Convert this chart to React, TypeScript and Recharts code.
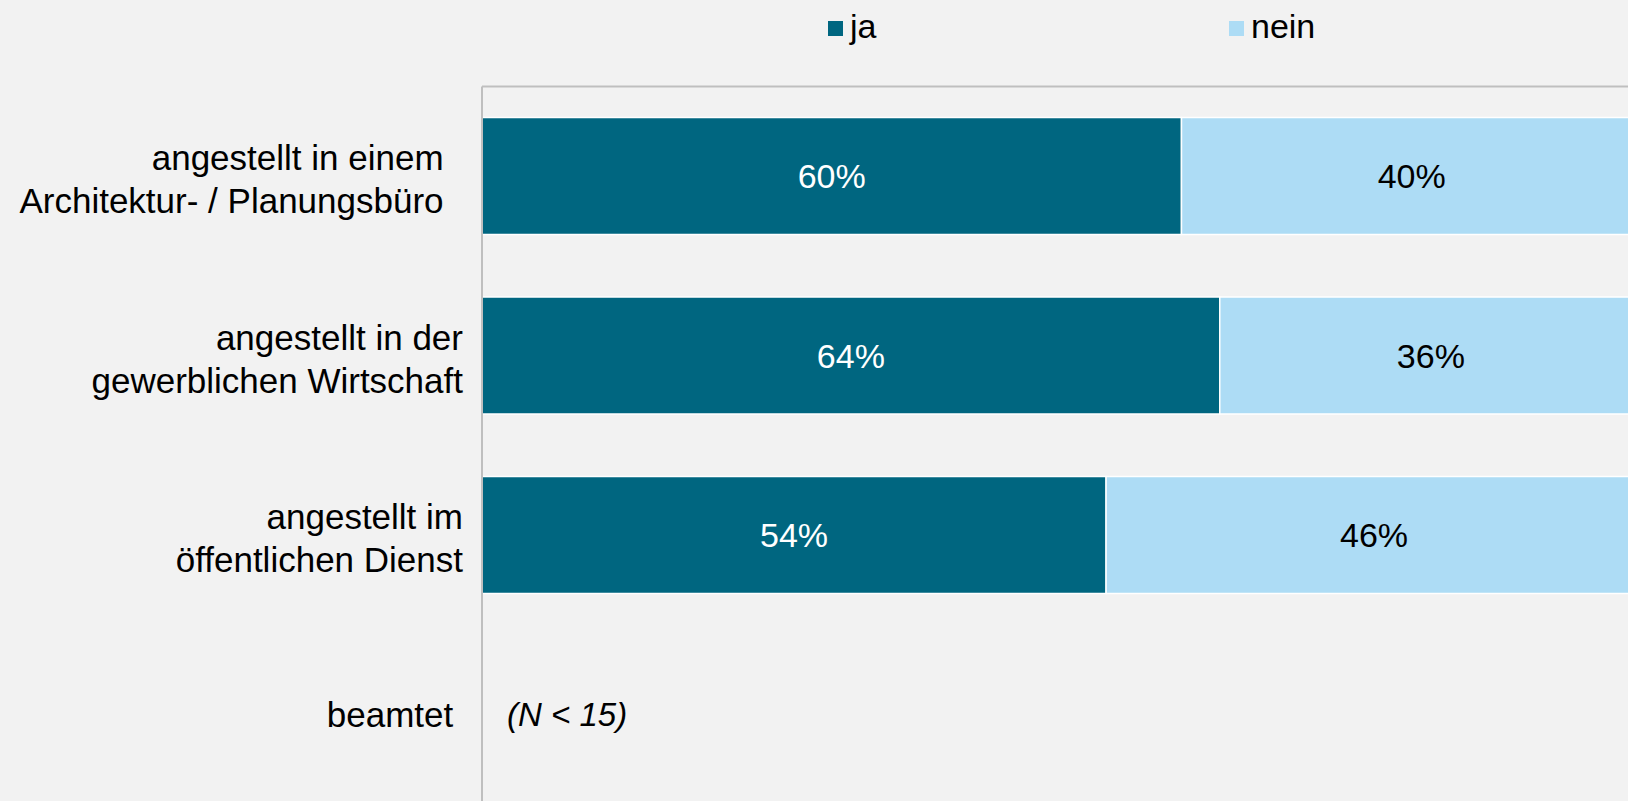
import React from 'react';
import { BarChart, Bar, XAxis, YAxis, LabelList, ReferenceDot } from 'recharts';

// trailing spaces keep the ragged right edge of the original labels
const categories = [
  ['angestellt in einem  ', 'Architektur- / Planungsbüro  '],
  ['angestellt in der', 'gewerblichen Wirtschaft'],
  ['angestellt im', 'öffentlichen Dienst'],
  ['beamtet '],
];
const jaValues = [60.3, 63.6, 53.8, 0];
const neinValues = [39.7, 36.4, 46.2, 0];
const noteCategory = 'beamtet';
const noteText = '(N < 15)';

const series = [
  { key: 'ja', name: 'ja', color: '#006680', labelColor: '#ffffff' },
  { key: 'nein', name: 'nein', color: '#ADDCF5', labelColor: '#000000' },
];

const data = categories.map((lines, i) => ({
  name: lines.join(' ').trim(),
  lines,
  ja: jaValues[i],
  nein: neinValues[i],
}));

const FONT = '"Liberation Sans", Arial, sans-serif';

const CategoryTick = (props: any) => {
  const { x, y, payload } = props;
  const row = data.find((d) => d.name === payload.value);
  const lines = row ? row.lines : [String(payload.value)];
  const first = y + 12.5 - (lines.length - 1) * 18.3;
  return (
    <text
      x={x}
      y={first}
      textAnchor="end"
      fill="#000"
      fontSize={35}
      fontFamily={FONT}
      xmlSpace="preserve"
      style={{ whiteSpace: 'pre' }}
    >
      {lines.map((l, i) => (
        <tspan key={i} x={x} dy={i === 0 ? 0 : 42.7}>
          {l}
        </tspan>
      ))}
    </text>
  );
};

const pct = (v: any) => (typeof v === 'number' && v > 0 ? `${Math.round(v)}%` : '');

const legendX = [828, 1229];

export default function App() {
  return (
    <div style={{ position: 'relative', width: 1628, height: 801, overflow: 'hidden', background: '#F2F2F2' }}>
      <style>{'body{margin:0}'}</style>
      {series.map((s, i) => (
        <div
          key={s.key}
          style={{
            position: 'absolute',
            left: legendX[i],
            top: 7,
            display: 'flex',
            alignItems: 'center',
            fontFamily: FONT,
            fontSize: 34,
            color: '#000',
          }}
        >
          <span style={{ display: 'inline-block', width: 15, height: 15, background: s.color, marginRight: 7, marginTop: 4 }} />
          <span>{s.name}</span>
        </div>
      ))}
      <BarChart
        width={1650}
        height={820}
        data={data}
        layout="vertical"
        margin={{ top: 85.5, right: 8, bottom: 15.5, left: 0 }}
        barSize={117}
      >
        <XAxis
          type="number"
          domain={[0, 100]}
          orientation="top"
          height={1}
          tick={false}
          tickLine={false}
          axisLine={{ stroke: '#BFBFBF', strokeWidth: 2 }}
        />
        <YAxis
          type="category"
          dataKey="name"
          width={482}
          tick={<CategoryTick />}
          tickLine={false}
          tickMargin={13}
          axisLine={{ stroke: '#BFBFBF', strokeWidth: 2 }}
          interval={0}
        />
        {series.map((s) => (
          <Bar
            key={s.key}
            dataKey={s.key}
            name={s.name}
            stackId="a"
            fill={s.color}
            stroke="#ffffff"
            strokeWidth={1.5}
            isAnimationActive={false}
          >
            <LabelList
              dataKey={s.key}
              position="center"
              formatter={pct}
              fill={s.labelColor}
              fontSize={34}
              fontFamily={FONT}
            />
          </Bar>
        ))}
        <ReferenceDot
          x={0}
          y={noteCategory}
          r={0}
          fill="none"
          stroke="none"
          label={{
            value: noteText,
            position: 'right',
            offset: 25,
            fill: '#000',
            fontSize: 33,
            fontStyle: 'italic',
            fontFamily: FONT,
          }}
        />
      </BarChart>
    </div>
  );
}
